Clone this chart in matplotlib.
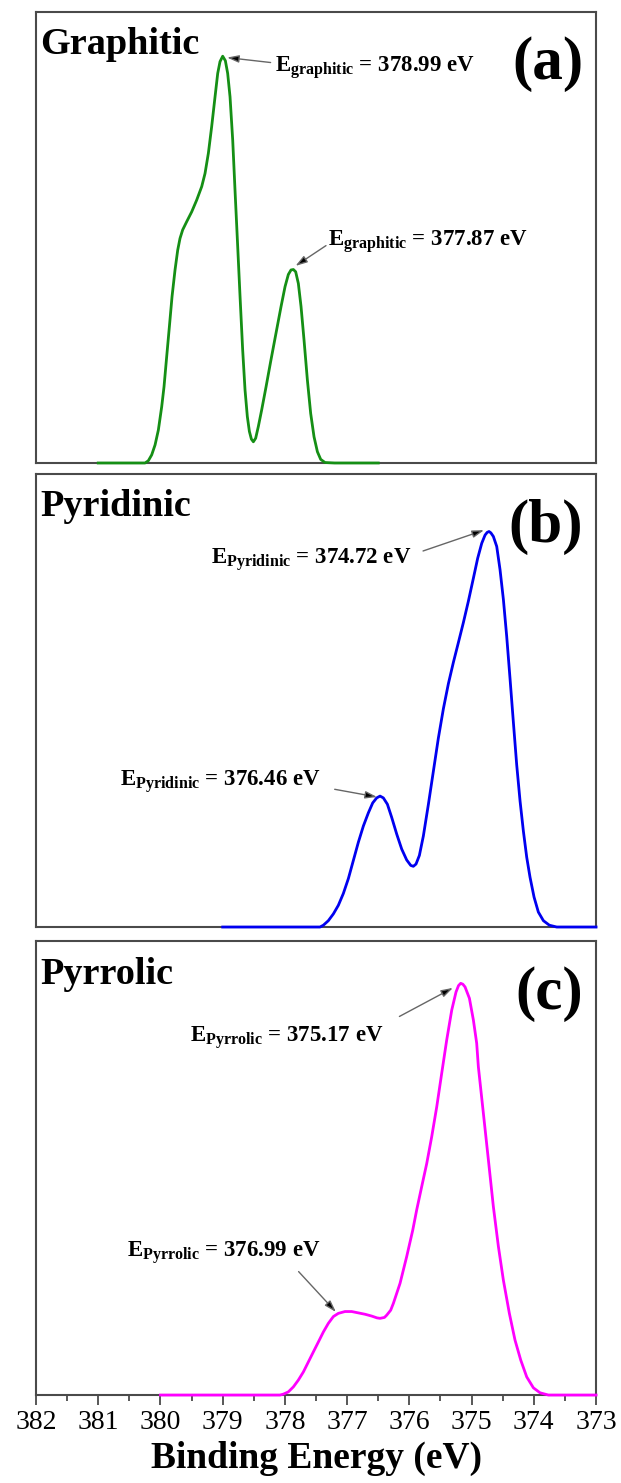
import numpy as np
import matplotlib.pyplot as plt

plt.rcParams['font.family'] = 'Liberation Serif'
plt.rcParams['mathtext.fontset'] = 'custom'
plt.rcParams['mathtext.rm'] = 'Liberation Serif:bold'
plt.rcParams['mathtext.bf'] = 'Liberation Serif:bold'
plt.rcParams['mathtext.it'] = 'Liberation Serif:bold'

# binding energy (eV) and normalised intensity
e_graphitic = [381.0, 380.248, 380.195, 380.141, 380.087, 380.034, 379.98, 379.943, 379.9,
               379.857, 379.814, 379.766, 379.723, 379.686, 379.643, 379.579, 379.498, 379.418,
               379.337, 379.284, 379.23, 379.177, 379.123, 379.08, 379.043, 379.0, 378.957,
               378.92, 378.882, 378.839, 378.802, 378.764, 378.721, 378.679, 378.641, 378.604,
               378.571, 378.539, 378.507, 378.47, 378.427, 378.373, 378.303, 378.229, 378.143,
               378.062, 377.998, 377.945, 377.902, 377.864, 377.827, 377.784, 377.741, 377.693,
               377.639, 377.586, 377.532, 377.478, 377.425, 377.355, 377.2, 376.5]
i_graphitic = [0.0, 0.0, 0.005, 0.018, 0.04, 0.073, 0.125, 0.169, 0.236,
               0.302, 0.369, 0.428, 0.472, 0.498, 0.517, 0.535, 0.557, 0.583,
               0.613, 0.642, 0.687, 0.746, 0.812, 0.864, 0.89, 0.902, 0.892,
               0.864, 0.812, 0.716, 0.605, 0.495, 0.369, 0.251, 0.162, 0.103,
               0.07, 0.053, 0.047, 0.055, 0.081, 0.118, 0.169, 0.225, 0.288,
               0.347, 0.391, 0.418, 0.428, 0.429, 0.424, 0.398, 0.347, 0.273,
               0.184, 0.11, 0.058, 0.025, 0.008, 0.001, 0.0, 0.0]

e_pyridinic = [379.0, 377.6, 377.436, 377.382, 377.302, 377.221, 377.141, 377.061, 376.98,
               376.9, 376.82, 376.739, 376.659, 376.589, 376.525, 376.471, 376.418, 376.353,
               376.284, 376.203, 376.123, 376.043, 375.978, 375.936, 375.893, 375.839, 375.775,
               375.694, 375.614, 375.534, 375.453, 375.373, 375.293, 375.212, 375.132, 375.052,
               374.971, 374.902, 374.837, 374.784, 374.75, 374.72, 374.69, 374.65, 374.596,
               374.543, 374.489, 374.436, 374.382, 374.329, 374.275, 374.221, 374.168, 374.114,
               374.061, 373.996, 373.927, 373.846, 373.75, 373.632, 373.0]
i_pyridinic = [0.0, 0.0, 0.0, 0.004, 0.014, 0.029, 0.048, 0.074, 0.107,
               0.147, 0.187, 0.223, 0.252, 0.274, 0.285, 0.289, 0.285, 0.271,
               0.242, 0.205, 0.172, 0.148, 0.136, 0.134, 0.139, 0.158, 0.201,
               0.271, 0.344, 0.417, 0.482, 0.537, 0.584, 0.628, 0.672, 0.719,
               0.77, 0.814, 0.847, 0.865, 0.871, 0.873, 0.87, 0.862, 0.84,
               0.789, 0.723, 0.642, 0.548, 0.453, 0.358, 0.278, 0.212, 0.154,
               0.11, 0.066, 0.033, 0.014, 0.004, 0.0, 0.0]

e_pyrrolic = [380.0, 378.6, 378.08, 378.025, 377.945, 377.864, 377.784, 377.703, 377.623,
              377.543, 377.462, 377.382, 377.302, 377.221, 377.141, 377.034, 376.927, 376.82,
              376.712, 376.605, 376.52, 376.471, 376.4, 376.364, 376.3, 376.257, 376.15,
              376.043, 375.946, 375.882, 375.802, 375.721, 375.641, 375.56, 375.48, 375.4,
              375.319, 375.25, 375.21, 375.175, 375.14, 375.105, 375.035, 374.971, 374.918,
              374.891, 374.81, 374.73, 374.65, 374.569, 374.489, 374.393, 374.302, 374.21,
              374.114, 374.007, 373.9, 373.766, 373.5, 373.0]
i_pyrrolic = [0.0, 0.0, 0.0, 0.002, 0.007, 0.018, 0.033, 0.051, 0.073,
              0.095, 0.117, 0.139, 0.158, 0.173, 0.18, 0.184, 0.184, 0.181,
              0.178, 0.174, 0.17, 0.169, 0.171, 0.176, 0.187, 0.202, 0.246,
              0.305, 0.363, 0.408, 0.459, 0.51, 0.569, 0.635, 0.709, 0.782,
              0.848, 0.888, 0.902, 0.907, 0.905, 0.899, 0.874, 0.826, 0.775,
              0.723, 0.62, 0.518, 0.415, 0.327, 0.253, 0.18, 0.121, 0.077,
              0.04, 0.016, 0.005, 0.0, 0.0, 0.0]

titles = ['Graphitic', 'Pyridinic', 'Pyrrolic']
letters = ['(a)', '(b)', '(c)']
colors = ['#158f15', '#0000f0', '#ff00ff']
curves = [(e_graphitic, i_graphitic), (e_pyridinic, i_pyridinic), (e_pyrrolic, i_pyrrolic)]

# (text, text anchor, arrow tail, arrow tip) per panel
notes = [
    [(r'E$_{\mathbf{graphitic}}$ = 378.99 eV', (378.165, 0.868), (378.23, 0.888), (378.93, 0.899)),
     (r'E$_{\mathbf{graphitic}}$ = 377.87 eV', (377.312, 0.482), (377.34, 0.482), (377.83, 0.437))],
    [(r'E$_{\mathbf{Pyridinic}}$ = 374.72 eV', (379.19, 0.802), (375.78, 0.83), (374.80, 0.876)),
     (r'E$_{\mathbf{Pyridinic}}$ = 376.46 eV', (380.647, 0.311), (377.2, 0.304), (376.52, 0.287))],
    [(r'E$_{\mathbf{Pyrrolic}}$ = 375.17 eV', (379.523, 0.779), (376.16, 0.834), (375.3, 0.897)),
     (r'E$_{\mathbf{Pyrrolic}}$ = 376.99 eV', (380.537, 0.305), (377.78, 0.272), (377.18, 0.183))],
]

fig = plt.figure(figsize=(6.21, 14.83), dpi=100)
boxes = [[0.058, 0.6878, 0.9018, 0.3041],
         [0.058, 0.3749, 0.9018, 0.3055],
         [0.058, 0.0593, 0.9018, 0.3061]]

for k in range(3):
    ax = fig.add_axes(boxes[k])
    x, y = curves[k]
    ax.plot(x, y, color=colors[k], lw=2.0, clip_on=False, zorder=3)
    ax.set_xlim(382, 373)
    ax.set_ylim(0, 1)
    ax.set_yticks([])
    for s in ax.spines.values():
        s.set_color('#4a4a4a')
        s.set_linewidth(1.5)

    ax.text(0.008, 0.966, titles[k], transform=ax.transAxes, ha='left', va='top',
            fontsize=27.5, fontweight='bold')
    ax.text(0.977, 0.946, letters[k], transform=ax.transAxes, ha='right', va='top',
            fontsize=44, fontweight='bold')

    for txt, pos, tail, tip in notes[k]:
        ax.text(pos[0], pos[1], txt, ha='left', va='baseline', fontsize=16.5, fontweight='bold')
        ax.annotate('', xy=tip, xytext=tail,
                    arrowprops=dict(arrowstyle='-|>,head_length=0.7,head_width=0.22',
                                    fc='black', ec='#666666', lw=1.0, shrinkA=0, shrinkB=0))

    if k < 2:
        ax.set_xticks([])
    else:
        ax.set_xticks(np.arange(382, 372, -1))
        ax.set_xticks(np.arange(381.5, 373, -1), minor=True)
        ax.tick_params(axis='x', which='major', direction='out', length=7, width=1.3,
                       color='#4a4a4a', labelsize=20, pad=4)
        ax.tick_params(axis='x', which='minor', direction='out', length=4, width=1.3,
                       color='#4a4a4a')
        ax.set_xlabel('Binding Energy (eV)', fontsize=27, fontweight='bold', labelpad=4)

fig.savefig('out.png', dpi=100)
